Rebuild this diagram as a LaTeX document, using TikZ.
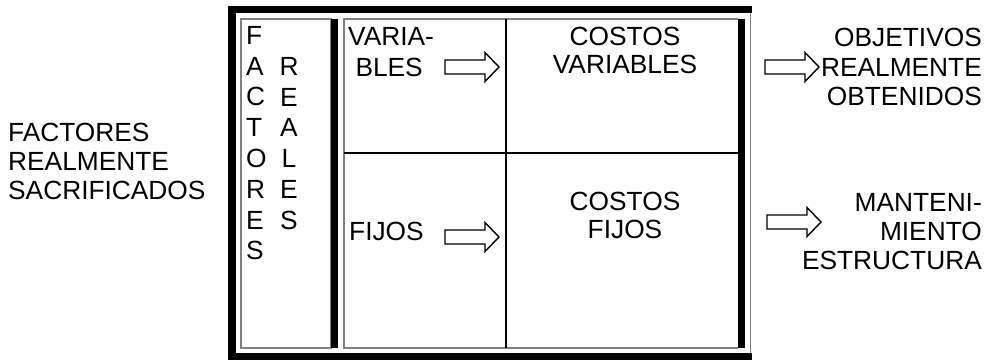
\documentclass[tikz,border=0pt]{standalone}
\usepackage{fontspec}
\setmainfont{Liberation Sans}
\begin{document}
\begin{tikzpicture}[x=1pt,y=-1pt,
  lbl/.style={inner sep=0pt, font=\fontsize{26.3}{29}\selectfont},
  thinframe/.style={draw=black!50, line width=1.1pt},
  divider/.style={draw=black, line width=2pt},
  bar/.style={fill=black},
  blockarrow/.pic={
    \draw[line width=1.4pt, fill=white, line join=miter]
      (0,-7) -- (40,-7) -- (40,-14.5) -- (54,0) -- (40,14.5) -- (40,7) -- (0,7) -- cycle;
  }]
\useasboundingbox (0,0) rectangle (993,360);

% outer frame: heavy top, left and bottom, light right edge
\fill[bar] (228,6) rectangle (752,13);
\fill[bar] (228,6) rectangle (236,360);
\fill[bar] (228,353) rectangle (752,360);
\draw[thinframe] (750.5,13) -- (750.5,353);

% column of the real factors
\draw[thinframe] (241,19) rectangle (331,348);
\fill[bar] (331,19) rectangle (338,348);

% cost matrix
\draw[thinframe] (738,19) -- (344,19) -- (344,348) -- (738,348);
\fill[bar] (738,19) rectangle (745,348);
\draw[divider] (506,19) -- (506,348);
\draw[divider] (344,153) -- (738,153);

% texts
\node[lbl, anchor=north west, align=left] (sacrif) at (8,123)
  {FACTORES\\REALMENTE\\SACRIFICADOS};
\node[lbl, anchor=north west, align=left, font=\fontsize{26.3}{30.8}\selectfont] (factores) at (246,26)
  {F\\A\\C\\T\\O\\R\\E\\S};
\node[lbl, anchor=north, align=center, font=\fontsize{26.3}{30.8}\selectfont] (reales) at (289,57)
  {R\\E\\A\\L\\E\\S};
\node[lbl, anchor=north west, align=left, font=\fontsize{26.3}{31.5}\selectfont] (variables) at (348,27)
  {VARIA-\\\hspace*{0.278em}BLES};
\node[lbl, anchor=north west] (fijos) at (349,222) {FIJOS};
\node[lbl, anchor=north, align=center, font=\fontsize{26.3}{28}\selectfont] (cvar) at (625,27)
  {COSTOS\\VARIABLES};
\node[lbl, anchor=north, align=center, font=\fontsize{26.3}{28}\selectfont] (cfij) at (625,192)
  {COSTOS\\FIJOS};
\node[lbl, anchor=north east, align=right, font=\fontsize{26.3}{29.5}\selectfont] (objetivos) at (982,28)
  {OBJETIVOS\\REALMENTE\\OBTENIDOS};
\node[lbl, anchor=north east, align=right] (mant) at (982,193)
  {MANTENI-\\MIENTO\\ESTRUCTURA};

% hollow block arrows
\pic at (445,67) {blockarrow};
\pic at (445,237) {blockarrow};
\pic at (765,67) {blockarrow};
\pic at (767,222) {blockarrow};
\end{tikzpicture}
\end{document}
